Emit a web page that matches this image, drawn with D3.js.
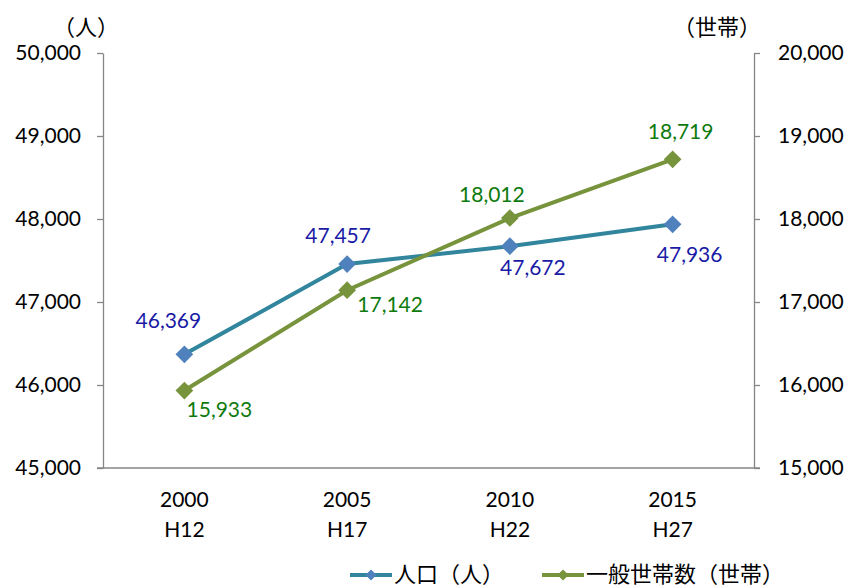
<!DOCTYPE html>
<html>
<head>
<meta charset="utf-8">
<script src="https://cdn.jsdelivr.net/npm/d3@7"></script>
<style>
  body { margin: 0; background: #fff; }
  text { font-family: Lato, "Noto Sans CJK JP", sans-serif; }
</style>
</head>
<body>
<div id="chart"></div>
<script>
const years = ["2000", "2005", "2010", "2015"];
const eras = ["H12", "H17", "H22", "H27"];
const population = [46369, 47457, 47672, 47936];
const households = [15933, 17142, 18012, 18719];
const leftTicks = [45000, 46000, 47000, 48000, 49000, 50000];
const rightTicks = [15000, 16000, 17000, 18000, 19000, 20000];

const width = 846, height = 587;
const plot = { left: 103, right: 754, top: 53, bottom: 468 };
const fontSize = "21px";

const svg = d3.select("#chart")
    .append("svg")
    .attr("width", width)
    .attr("height", height);

const x = d3.scaleBand()
    .domain(years)
    .range([plot.left, plot.right]);

const yL = d3.scaleLinear().domain([45000, 50000]).range([plot.bottom, plot.top]);
const yR = d3.scaleLinear().domain([15000, 20000]).range([plot.bottom, plot.top]);

const fmt = d3.format(",");
const axisColor = "#868686";

// left axis
const gL = svg.append("g")
    .attr("transform", `translate(${plot.left},0)`)
    .call(d3.axisLeft(yL).tickValues(leftTicks).tickFormat(fmt).tickSize(6).tickPadding(16).tickSizeOuter(0));
// right axis
const gR = svg.append("g")
    .attr("transform", `translate(${plot.right},0)`)
    .call(d3.axisRight(yR).tickValues(rightTicks).tickFormat(fmt).tickSize(6).tickPadding(18).tickSizeOuter(0));
// bottom axis
const gB = svg.append("g")
    .attr("transform", `translate(0,${plot.bottom})`)
    .call(d3.axisBottom(x).tickSize(0).tickFormat(""));

[gL, gR, gB].forEach(g => {
    g.selectAll("path, line").attr("stroke", axisColor).attr("stroke-width", 1.3);
    g.selectAll("text").attr("fill", "#000").style("font-size", fontSize);
});
gB.select("path").attr("d", `M${plot.left - 6},0H${plot.right + 6}`);

// x labels
years.forEach((yr, i) => {
    const cx = x(yr) + x.bandwidth() / 2;
    svg.append("text").attr("x", cx).attr("y", 507).attr("text-anchor", "middle")
        .style("font-size", fontSize).text(yr);
    svg.append("text").attr("x", cx).attr("y", 537).attr("text-anchor", "middle")
        .style("font-size", fontSize).text(eras[i]);
});

// unit labels
svg.append("text").attr("x", 86).attr("y", 35).attr("text-anchor", "middle")
    .style("font-size", "22px").text("（人）");
svg.append("text").attr("x", 717).attr("y", 35).attr("text-anchor", "middle")
    .style("font-size", "22px").text("（世帯）");

const cx = d => x(d) + x.bandwidth() / 2;
const diamond = d3.symbol().type(d3.symbolDiamond2).size(200);
const diamondSmall = d3.symbol().type(d3.symbolDiamond2).size(80);

const series = [
    { values: population, y: yL, line: "#31859C", marker: "#4F81BD", label: "#1A1AA6",
      offsets: [[-16, -33], [-9, -28], [23, 22], [17, 31]] },
    { values: households, y: yR, line: "#77933C", marker: "#77933C", label: "#0E7A0E",
      offsets: [[35, 19], [43, 15], [-18, -23], [8, -27]] }
];

series.forEach(s => {
    const line = d3.line()
        .x((d, i) => cx(years[i]))
        .y(d => s.y(d));
    svg.append("path").datum(s.values)
        .attr("d", line).attr("fill", "none")
        .attr("stroke", s.line).attr("stroke-width", 4);
    svg.selectAll(null).data(s.values).enter().append("path")
        .attr("d", diamond)
        .attr("transform", (d, i) => `translate(${cx(years[i])},${s.y(d)})`)
        .attr("fill", s.marker);
    svg.selectAll(null).data(s.values).enter().append("text")
        .attr("x", (d, i) => cx(years[i]) + s.offsets[i][0])
        .attr("y", (d, i) => s.y(d) + s.offsets[i][1] + 7)
        .attr("text-anchor", "middle")
        .attr("fill", s.label)
        .style("font-size", fontSize)
        .text(d => fmt(d));
});

// legend
const legend = [
    { name: "人口（人）", line: "#31859C", marker: "#4F81BD", x: 350 },
    { name: "一般世帯数（世帯）", line: "#77933C", marker: "#77933C", x: 542 }
];
legend.forEach(l => {
    svg.append("line").attr("x1", l.x).attr("x2", l.x + 42).attr("y1", 575).attr("y2", 575)
        .attr("stroke", l.line).attr("stroke-width", 4);
    svg.append("path").attr("d", diamondSmall)
        .attr("transform", `translate(${l.x + 21},575)`).attr("fill", l.marker);
    svg.append("text").attr("x", l.x + 44).attr("y", 582)
        .style("font-size", "22px").text(l.name);
});
</script>
</body>
</html>
